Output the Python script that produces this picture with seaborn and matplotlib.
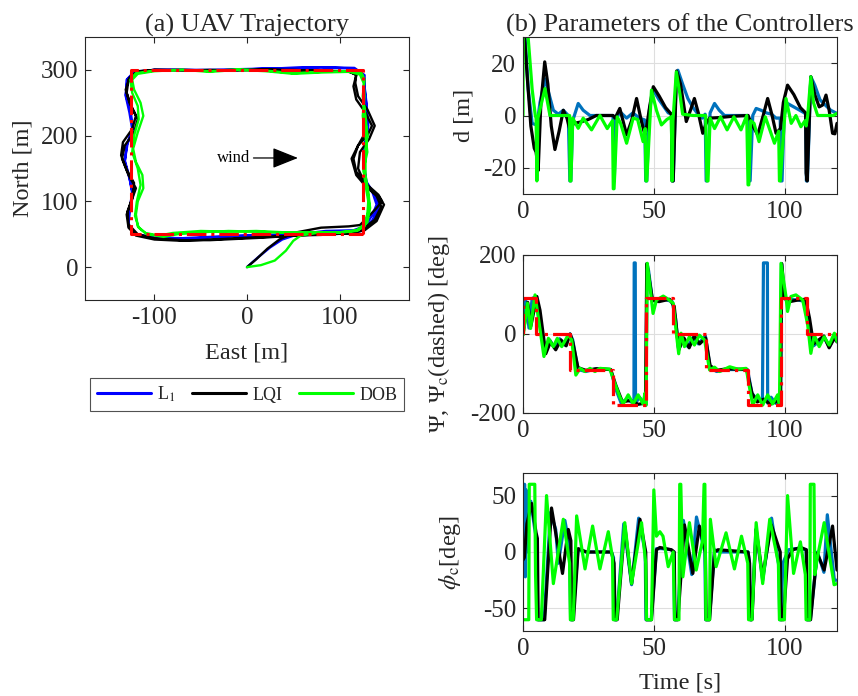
import matplotlib
matplotlib.use("Agg")
import matplotlib.pyplot as plt
import seaborn as sns
from matplotlib.lines import Line2D

# ---- trajectory (East, North) in metres ----
ref_east = [125, 125, -125, -125, 125]
ref_north = [50, 300, 300, 50, 50]

l1_path = [(0, 0), (12, 15), (25, 30), (38, 42), (55, 50), (85, 55), (115, 56), (127, 62), (135, 78),
           (140, 95), (136, 112), (128, 130), (126, 160), (128, 190), (130, 220), (129, 250), (127, 275),
           (126, 292), (115, 302), (80, 304), (50, 303), (20, 302), (-10, 300), (-40, 299), (-70, 300),
           (-100, 300), (-122, 297), (-130, 285), (-131, 260), (-127, 235), (-124, 210), (-130, 185),
           (-132, 160), (-127, 135), (-123, 110), (-127, 85), (-128, 62), (-120, 50), (-100, 45), (-70, 44),
           (-40, 46), (-10, 48), (20, 49), (50, 50), (80, 50), (110, 51), (126, 56), (136, 72), (142, 92),
           (138, 110), (129, 128), (126, 155), (128, 185), (131, 215), (129, 245), (127, 272), (127, 292),
           (116, 303), (80, 304), (50, 303), (20, 302), (-10, 301), (-40, 300), (-70, 300), (-100, 300),
           (-121, 297), (-129, 286), (-131, 262), (-126, 238), (-123, 212), (-129, 188), (-132, 162),
           (-127, 137), (-124, 112), (-127, 88), (-128, 64), (-120, 50), (-100, 44), (-70, 43), (-40, 45),
           (-10, 47), (20, 48), (50, 49), (80, 50), (110, 51), (126, 57), (137, 73), (143, 95), (137, 112),
           (129, 130), (126, 160), (128, 190)]

lqi_path = [(0, 0), (10, 12), (22, 28), (35, 42), (50, 52), (80, 60), (110, 62), (122, 64), (130, 75),
            (140, 90), (146, 100), (142, 110), (130, 125), (118, 145), (115, 165), (120, 185), (130, 200),
            (135, 215), (128, 235), (118, 255), (115, 275), (118, 292), (110, 298), (80, 298), (50, 300),
            (20, 300), (-10, 299), (-40, 300), (-70, 299), (-100, 300), (-120, 296), (-128, 285), (-130, 265),
            (-125, 245), (-118, 225), (-122, 205), (-132, 185), (-135, 165), (-128, 140), (-120, 120),
            (-125, 100), (-130, 80), (-128, 60), (-120, 48), (-100, 42), (-70, 40), (-40, 42), (-10, 44),
            (20, 46), (50, 48), (80, 49), (110, 52), (125, 58), (138, 72), (145, 92), (140, 108), (128, 125),
            (120, 150), (122, 175), (132, 195), (138, 215), (130, 240), (120, 260), (117, 280), (118, 293),
            (108, 298), (80, 299), (50, 299), (20, 301), (-10, 300), (-40, 299), (-70, 300), (-100, 300),
            (-118, 298), (-127, 288), (-131, 270), (-127, 250), (-120, 230), (-124, 210), (-134, 190),
            (-136, 170), (-130, 148), (-122, 128), (-124, 105), (-129, 85), (-128, 65), (-118, 50), (-100, 44),
            (-70, 41), (-40, 41), (-10, 43), (20, 45), (50, 48), (80, 50), (110, 51), (127, 56), (140, 70),
            (148, 95), (142, 108), (130, 120), (118, 140), (113, 165), (120, 185), (128, 205)]

dob_path = [(0, 0), (15, 3), (30, 10), (42, 25), (50, 40), (58, 48), (75, 52), (100, 53), (118, 56),
            (126, 64), (130, 80), (131, 100), (128, 125), (126, 150), (130, 175), (128, 200), (125, 230),
            (127, 260), (126, 280), (122, 293), (110, 297), (80, 296), (50, 294), (20, 298), (-10, 300),
            (-40, 297), (-70, 300), (-100, 298), (-118, 294), (-124, 285), (-122, 270), (-115, 250),
            (-112, 230), (-118, 205), (-123, 180), (-120, 160), (-113, 140), (-112, 120), (-118, 100),
            (-120, 80), (-118, 62), (-110, 52), (-95, 48), (-80, 52), (-50, 55), (-20, 54), (10, 55), (40, 53),
            (70, 52), (100, 53), (118, 55), (127, 62), (130, 75), (132, 95), (130, 120), (126, 145), (127, 170),
            (130, 200), (128, 230), (125, 260), (127, 285), (124, 295), (110, 298), (80, 297), (50, 295),
            (20, 299), (-10, 301), (-40, 298), (-70, 300), (-100, 299), (-120, 295), (-126, 285), (-124, 265),
            (-118, 245), (-117, 225), (-122, 200), (-124, 175), (-118, 150), (-115, 125), (-119, 100),
            (-121, 78), (-117, 60), (-108, 50), (-90, 46), (-75, 50), (-50, 53), (-20, 55), (10, 54), (40, 52),
            (70, 53), (100, 52), (120, 56), (130, 68), (133, 90), (131, 115), (128, 140), (128, 170), (130, 200),
            (127, 230), (126, 260)]

# ---- cross-track distance d [m] ----
d_t_l1 = [0, 0.8, 2.0, 3.5, 4.8, 5.4, 6.5, 8.4, 10, 11.6, 13.5, 15.4, 17.3, 17.9, 18.3, 19.0, 21.1, 23, 25.6,
          34.4, 34.9, 35.4, 37, 39.6, 42, 44.5, 46.5, 46.9, 47.3, 48.3, 49.8, 52, 55.5, 56.8, 57.0, 57.4, 58.4,
          59.2, 61, 63, 65, 66.5, 68.5, 69.6, 70.0, 70.4, 71.5, 73.2, 75, 77, 86.0, 86.4, 86.8, 87.8, 89.1, 91,
          93, 95, 96.7, 98.3, 98.6, 99.0, 99.8, 101.1, 104, 107.5, 108.0, 108.3, 108.7, 110.0, 111.5, 113.5,
          115.5, 117.6, 120]
d_l1 = [32, 30, 10, -3, -3.5, -3, 5, 14, 8, 2, 0.5, 2, 0, -25, -25, -2, 4.6, 2, 0, 0, -25, -2, 1.5, -1, 1, -1,
        -1.7, -25, -25, 2, 9.7, 6, 1, 0.5, -25, -25, 10, 17.3, 12, 6.5, 3, 1, -1, 0.5, -25, -25, 1, 4.6, 2, 0,
        0, -25, -25, 0, 2.7, 2, 1, 0.5, -1, -1, -25, -25, 0, 4.6, 3, 1, 0.5, -25, -25, 14.8, 11.6, 6, 4, 2, 0.8]

d_t_lqi = [0, 0.6, 1.6, 3.0, 4.3, 5.0, 5.4, 5.8, 6.8, 8.3, 9.5, 10.8, 12.2, 13.8, 15.4, 16.8, 17.8, 19.5, 22, 25,
           28, 34.4, 35.2, 37.0, 39.6, 41.5, 43.4, 45.2, 46.6, 47.3, 48.5, 49.8, 52, 54.5, 56.7, 57.0, 57.4, 58.7,
           60.2, 62.4, 64.0, 65.5, 67.0, 68.7, 70.0, 71.3, 75, 80, 86, 87.3, 89.7, 91.8, 93.5, 95.2, 96.7, 98.4,
           99.5, 101.1, 103.5, 106, 108.0, 108.2, 108.6, 110.0, 111.5, 113.2, 114.5, 115.8, 117, 118.3, 119.2, 120]
d_lqi = [32, 30, 15, -4, -12.5, -14, -17, -21, 4, 20.5, 12, -4, -13, -6, 2, -1, -5, -3, -2.5, -1.5, 0, 0, -1,
         2.7, -7.4, -2, 6.5, -2, -7.4, -4, 4, 11, 7.5, 3, 0.5, -25, -25, 17, 12, -2.3, 2, 6.5, 1, -6.8, -3, -1,
         -0.8, -0.3, 0, -3, -7.4, 0, 6.5, 0, -6.8, -5, 5, 11.6, 8, 3, 1, -22, -25, 14.8, 8, 3.3, 4, 7.8, 2, -6.8,
         -7, -3]

d_t_dob = [0, 0.05, 1.8, 3.5, 4.7, 5.0, 5.3, 5.7, 8.4, 10.3, 17.8, 18.0, 18.3, 19.0, 21.1, 23.0, 26.2, 29.4, 32.2,
           34.2, 34.5, 34.8, 36.0, 37.3, 39.6, 42.1, 43.8, 45.9, 46.7, 47.0, 47.3, 49.1, 51, 52.9, 55.0, 56.7,
           57.0, 57.3, 58.6, 60.0, 61.0, 65, 69.8, 70.3, 70.7, 71.5, 73.2, 75.5, 78, 80.6, 83.3, 85.5, 86.0, 86.3,
           87.0, 88.3, 90.2, 92.6, 96.1, 97.7, 98.0, 98.3, 100.5, 102.5, 104.3, 106.2, 107.8, 108.2, 108.8, 110.0,
           111.0, 112.6, 116, 118.6, 120]
d_dob = [0, 32, 32, 10, 0, -1, -25, -1, 10.3, 0, 0, -25, -25, -1, -4.9, -1, -5.5, 0, -5, -2, -28, -28, -0.5, -3,
         -10.6, -1, -1.5, -10, -5, -25, -25, 9.7, 2, -3.6, -1.5, -0.5, -25, -2, 16.7, 8, 0.5, 0, 0, -25, -25, -1,
         -5, -0.5, -5.5, -0.5, -5.5, 0, -26.5, -26.5, -2, -3, -10, -0.5, -10.6, -6, -25, -25, 6.5, -3, 0, -4.3,
         -2, -4, 0, 14.8, 5, 0, 0, 0, 0.8]

# ---- heading Psi and commanded heading Psi_c [deg] ----
psi_c_t = [0, 0, 5, 5, 18, 18, 34.5, 34.5, 47, 47, 57.5, 57.5, 70, 70, 86, 86, 98.6, 98.6, 108.5, 108.5, 120]
psi_c = [0, 90, 90, 0, 0, -90, -90, -180, -180, 90, 90, 0, 0, -90, -90, -180, -180, 90, 90, 0, 0]

psi_t_l1 = [0, 1.0, 2.3, 3.5, 5.0, 6.3, 8.5, 10.2, 12, 14, 16, 18.0, 19.0, 21, 24, 28, 33.5, 35.5, 37.5, 39.5,
            41.3, 42.4, 42.5, 42.9, 43.0, 44.5, 46.3, 47.0, 47.4, 48, 49.4, 51, 54, 57, 58.3, 59.5, 61.2, 63, 65,
            67, 69.7, 71.5, 74, 78, 85.8, 87.5, 89.3, 91.5, 91.9, 92.0, 93.4, 93.5, 94.8, 96.5, 98.4, 98.8, 99.3,
            100.6, 102, 105, 108.3, 109.5, 111, 113, 115, 117, 119, 120]
psi_l1 = [0, 85, 15, 90, 95, 40, -45, -15, -35, -12, -28, 0, -15, -90, -95, -88, -90, -140, -175, -165, -172,
          -168, 180, 180, -175, -160, -175, -180, 178, 160, 88, 83, 88, 82, 40, -40, -10, -32, -8, -25, -5, -85,
          -95, -90, -90, -150, -165, -170, 180, 180, 180, -175, -160, -175, -180, 178, 120, 85, 88, 86, 82, 10,
          -30, -20, -8, -32, -10, -15]

psi_t_lqi = [0, 1.8, 3.0, 5.3, 6.5, 8.7, 10.5, 12.5, 14.5, 16.5, 18.0, 19.0, 21.0, 24, 28, 33.5, 35.5, 38, 41, 44,
             46.8, 47.3, 48, 49.5, 52, 56, 57.8, 59.5, 61.5, 63.5, 65.5, 67.5, 69.8, 71.5, 74, 78, 85.5, 87.5,
             89.5, 92, 94.5, 97, 98.4, 98.9, 100, 102, 105, 108, 109.5, 111, 113, 115, 117, 119, 120]
psi_lqi = [0, 80, 20, 95, 60, -50, -20, -40, -15, -30, 0, -20, -85, -92, -88, -90, -130, -172, -168, -178, -175,
           178, 150, 85, 82, 88, 70, -40, -10, -35, -5, -25, -10, -80, -92, -88, -90, -150, -172, -165, -178, -170,
           -178, 178, 90, 82, 86, 88, 40, -25, -15, -5, -35, -10, -20]

psi_t_dob = [0.1, 1.7, 2.9, 4.6, 5.8, 8.0, 9.7, 11.6, 13.1, 14.8, 17.3, 18.6, 20.2, 21.8, 23.7, 25.6, 27.5, 29.4,
             33.2, 35.1, 37.0, 38.3, 40.2, 42.1, 44.0, 45.9, 46.6, 47.0, 47.5, 49.1, 49.7, 51.0, 53.6, 55.5, 57.4,
             58.6, 59.5, 60.4, 61.7, 63.6, 65.5, 67.4, 69.4, 71.3, 73.2, 75.1, 79, 82.1, 85.3, 86.5, 87.8, 89.7,
             91.6, 93.5, 95.4, 97.3, 98.0, 98.6, 100.5, 101.1, 102.4, 104.3, 106.9, 108.8, 110.0, 111.3, 113.2,
             115.1, 117.0, 119.0, 120]
psi_dob = [-2, 78, 14, 99, 44, -57, -11, -32, -11, -32, -2, -15, -104, -87, -95, -87, -95, -87, -89, -125, -159,
           -177, -154, -177, -154, -177, -150, -180, 179, 86, 52, 86, 96, 88, 78, 2, -50, 2, -32, -7, -28, -3, -15,
           -91, -84, -95, -83, -89, -87, -133, -180, -154, -180, -154, -177, -154, -180, 179, 95, 57, 95, 99, 86,
           23, -49, -3, -32, -7, -28, 2, -19]

# ---- roll command phi_c [deg] ----
phi_t_l1 = [0, 0.3, 0.6, 0.9, 1.2, 1.5, 2.0, 3.0, 4.5, 5.3, 5.6, 7.6, 8.1, 10.5, 12.5, 13.5, 16.0, 17.8, 18.2, 19.0,
            21, 24, 33.8, 34.6, 35.0, 35.8, 38.5, 41.5, 44.2, 46.7, 47.0, 49.0, 51, 53, 56.5, 57.6, 57.9, 59.0,
            61.3, 64.5, 66.3, 69.5, 69.8, 71.2, 73.2, 75, 86, 86.5, 86.8, 87.4, 89, 91.6, 95, 97.8, 98.1, 98.6,
            99.3, 101.5, 104, 108.2, 108.5, 109.8, 112.5, 115, 116.3, 119, 120]
phi_l1 = [40, -20, 60, -22, 55, 0, 35, 45, 20, 10, -60, -60, -60, 35, 20, -10, 28, 5, -60, -60, 2, 0, 0, -5, -60,
          -60, 25, -29, 30, 0, -60, -60, 3, 3, 2, 0, -60, -60, 28, -20, 31, 0, -60, -60, 2, 0, 0, -8, -60, -60, 20,
          -25, 30, -13, -60, -60, -10, 2, 3, 2, -60, -60, 0, -18, 33, -25, -25]

phi_t_lqi = [0, 0.5, 1.5, 3.3, 5.0, 5.5, 5.8, 7.8, 8.3, 10.9, 13, 15.1, 17.3, 18.3, 18.6, 19.3, 21.1, 24.3, 33.8,
             34.8, 35.2, 36.0, 38.9, 41.5, 44.7, 46.9, 47.2, 49.1, 51.0, 52.3, 56.7, 57.8, 58.1, 59.2, 61.7, 64.9,
             67.4, 69.7, 70.0, 71.3, 73.2, 74.5, 86.0, 86.6, 86.9, 87.5, 89.1, 91.6, 94.9, 98.3, 98.6, 99.5, 101.1,
             103.1, 106.2, 108.3, 108.6, 109.9, 112.4, 115.1, 118.3, 120]
phi_lqi = [-7, -5, 25, 43, 17, 12, -60, -60, -60, 39, 10, -19, 20, 10, -60, -60, 3, 0, 0, -10, -60, -60, 23, -28,
           29, 0, -60, -60, 2, 4, 2, 0, -60, -60, 24, -19, 23, 0, -60, -60, 0, 2, 0, -10, -60, -60, 20, -22, 24, 0,
           -60, -60, -6, 2, 4, 2, -60, -60, -1, -16, 23, -16]

phi_t_dob = [0, 2.2, 2.4, 4.5, 4.8, 5.2, 5.5, 7.0, 9.0, 11.6, 15.4, 17.8, 18.1, 19.2, 20.5, 23.7, 26.6, 29.4, 32.6,
             34.2, 34.5, 35.8, 38.9, 41.5, 45.3, 46.9, 47.2, 49.1, 50.0, 51.0, 52.3, 53.5, 55.5, 57.4, 57.9, 59.6,
             59.9, 60.3, 61.1, 63.6, 66.2, 68.6, 69.2, 69.5, 69.9, 71.3, 71.6, 73.8, 77.6, 80.8, 83.5, 85.9, 86.2,
             87.5, 89.1, 91.6, 94.3, 97.6, 98.0, 99.9, 101.1, 103.4, 106.0, 107.9, 108.2, 109.6, 109.8, 111.2,
             111.5, 112.5, 115.1, 118.9, 120]
phi_dob = [-60, -60, 60, 60, -20, -60, -60, -60, 50, -28, 29, -10, -60, -60, 32, -15, 23, -15, 18, -5, -60, -60,
           26, -28, 26, -10, -60, -60, 55, 14, 18, 14, -13, 0, -60, -60, 60, 60, -22, 26, -16, 10, 60, 60, -60, -60,
           29, -13, 17, -15, 14, -10, -60, -60, 26, -28, 29, -10, -60, -60, 50, -19, 9, -20, -60, -60, 60, 60, -20,
           -5, 26, -29, -28]

# ---- styling ----
sns.set_style("ticks")
plt.rcParams["font.family"] = ["Liberation Serif", "DejaVu Serif"]
plt.rcParams["mathtext.fontset"] = "stix"
plt.rcParams["axes.unicode_minus"] = False
INK = "#262626"
BLUE_TRAJ, BLUE_TS = "#0000FF", "#0072BD"
GREEN, RED = "#00FF00", "#FF0000"
TICK_FS, LABEL_FS, TITLE_FS = 18, 17.5, 19

W, H = 858, 696
fig = plt.figure(figsize=(W / 100, H / 100), dpi=100)


def px_axes(x0, y0, x1, y1):
    return fig.add_axes([x0 / W, 1 - y1 / H, (x1 - x0) / W, (y1 - y0) / H])


def style(ax):
    ax.tick_params(direction="in", top=True, right=True, length=4, width=0.8,
                   colors=INK, labelsize=TICK_FS, pad=5)
    for s in ax.spines.values():
        s.set_color(INK)
        s.set_linewidth(0.8)


def line(ax, x, y, color, lw, ls="-"):
    sns.lineplot(x=x, y=y, ax=ax, color=color, linewidth=lw, linestyle=ls,
                 sort=False, estimator=None, legend=False)


# (a) trajectory
ax0 = px_axes(85, 37, 409, 300)
for path, c in [(l1_path, BLUE_TRAJ), (lqi_path, "black"), (dob_path, GREEN)]:
    line(ax0, [p[0] for p in path], [p[1] for p in path], c, 1.7)
line(ax0, ref_east, ref_north, RED, 2.2, "-.")
ax0.set_xlim(-175, 175)
ax0.set_ylim(-50, 350)
ax0.set_xticks([-100, 0, 100])
ax0.set_yticks([0, 100, 200, 300])
style(ax0)
ax0.set_xlabel("East [m]", fontsize=LABEL_FS, color=INK)
ax0.set_ylabel("North [m]", fontsize=LABEL_FS, color=INK)
ax0.xaxis.set_label_coords(0.5, -0.16)
ax0.yaxis.set_label_coords(-0.16, 0.5)
ax0.set_title("(a) UAV Trajectory", fontsize=TITLE_FS, color=INK, pad=4)
ax0.annotate("", xy=(58, 166), xytext=(4, 166),
             arrowprops=dict(arrowstyle="-|>,head_length=0.8,head_width=0.32",
                             color="black", lw=0.9, mutation_scale=20))
ax0.text(3, 166, "wind", ha="right", va="center", fontsize=12, color="black")

handles = [Line2D([], [], color=BLUE_TRAJ, lw=2.2), Line2D([], [], color="black", lw=2.2),
           Line2D([], [], color=GREEN, lw=2.2)]
leg = fig.legend(handles, ["L$_1$", "LQI", "DOB"], loc="center", bbox_to_anchor=(247 / W, 1 - 394.5 / H),
                 ncol=3, fontsize=13, frameon=True, fancybox=False, edgecolor=INK,
                 handlelength=3.0, handletextpad=0.35, columnspacing=0.9, borderpad=0.4)
leg.get_frame().set_linewidth(0.8)

# (b) controller signals
panels = [
    (37, 194, [(d_t_l1, d_l1), (d_t_lqi, d_lqi), (d_t_dob, d_dob)], (-30, 30), [-20, 0, 20],
     "d [m]", -0.155),
    (255, 413, [(psi_t_l1, psi_l1), (psi_t_lqi, psi_lqi), (psi_t_dob, psi_dob)], (-200, 200), [-200, 0, 200],
     "Ψ, Ψ$_{\\rm c}$(dashed) [deg]", -0.225),
    (473, 631, [(phi_t_l1, phi_l1), (phi_t_lqi, phi_lqi), (phi_t_dob, phi_dob)], (-70, 70), [-50, 0, 50],
     "$\\phi_{\\rm c}$[deg]", -0.19),
]
axes = []
for y0, y1, series, ylim, yticks, ylabel, lx in panels:
    ax = px_axes(523, y0, 837, y1)
    ax.set_axisbelow(True)
    ax.grid(True, color="#dedede", linewidth=0.8)
    for (t, v), c in zip(series, [BLUE_TS, "black", GREEN]):
        line(ax, t, v, c, 2.3)
    ax.set_xlim(0, 120)
    ax.set_ylim(*ylim)
    ax.set_xticks([0, 50, 100])
    ax.set_yticks(yticks)
    style(ax)
    ax.set_xlabel("")
    ax.set_ylabel(ylabel, fontsize=LABEL_FS, color=INK)
    ax.yaxis.set_label_coords(lx, 0.5)
    axes.append(ax)

line(axes[1], psi_c_t, psi_c, RED, 2.3, "-.")
axes[0].set_title("(b) Parameters of the Controllers", fontsize=TITLE_FS, color=INK, pad=4)
axes[2].set_xlabel("Time [s]", fontsize=LABEL_FS, color=INK)
axes[2].xaxis.set_label_coords(0.5, -0.26)

fig.savefig("out.png", dpi=100)
